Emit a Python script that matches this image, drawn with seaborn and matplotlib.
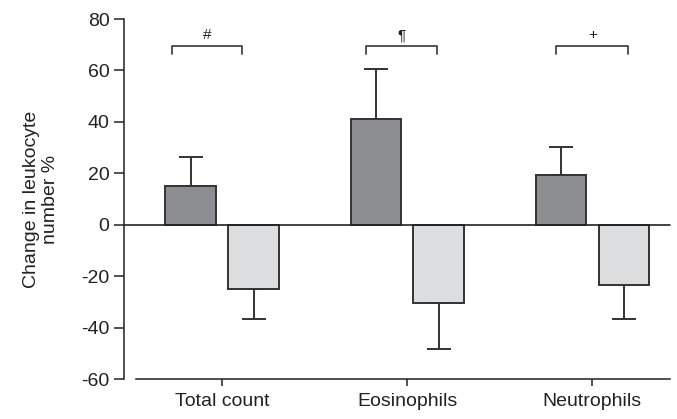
import matplotlib
matplotlib.use("Agg")
import matplotlib.pyplot as plt
import pandas as pd
import seaborn as sns

# Data
categories = ["Total count", "Eosinophils", "Neutrophils"]
groups = ["A", "B"]
values_a = [15, 41.2, 19.3]          # dark bars
values_b = [-25, -30.5, -23.5]       # light bars
err_a = [11.5, 19.2, 10.8]           # one-sided error (up)
err_b = [11.5, 18.0, 13.0]           # one-sided error (down)
symbols = ["#", "\u00b6", "+"]

df = pd.DataFrame({
    "category": categories * 2,
    "group": ["A"] * 3 + ["B"] * 3,
    "value": values_a + values_b,
})

sns.set_style("ticks")
plt.rcParams["font.family"] = ["Liberation Sans", "DejaVu Sans"]
plt.rcParams["axes.unicode_minus"] = False

fig = plt.figure(figsize=(6.77, 4.19), dpi=100)
ax = fig.add_axes([136 / 677, 1 - 379 / 419, (670 - 136) / 677, (379 - 19) / 419])

palette = {"A": "#8d8e92", "B": "#dcdddf"}
sns.barplot(data=df, x="category", y="value", hue="group", order=categories,
            hue_order=groups, palette=palette, width=0.68, gap=0.2,
            edgecolor="#333333", linewidth=1.4, errorbar=None, legend=False,
            saturation=1, ax=ax, zorder=3)

# one-sided error bars
xs = range(len(categories))
ax.errorbar([x - 0.17 for x in xs], values_a, yerr=[[0] * 3, err_a], fmt="none",
            ecolor="#333333", elinewidth=1.4, capsize=8.4, capthick=1.4, zorder=2)
ax.errorbar([x + 0.17 for x in xs], values_b, yerr=[err_b, [0] * 3], fmt="none",
            ecolor="#333333", elinewidth=1.4, capsize=8.4, capthick=1.4, zorder=2)

# zero line
ax.axhline(0, xmin=-12 / 534, xmax=1, color="#222222", lw=1.2, clip_on=False, zorder=4)

# significance brackets (offsets relative to each category)
brackets = [(-0.27, 0.11), (-0.22, 0.16), (-0.195, 0.195)]
for (x0, x1), sym, xc in zip(brackets, symbols, xs):
    x0, x1 = xc + x0, xc + x1
    ax.plot([x0, x0, x1, x1], [66.5, 69.5, 69.5, 66.5], color="#444444", lw=1.3,
            clip_on=False)
    ax.text((x0 + x1) / 2, 71, sym, ha="center", va="bottom", fontsize=11,
            color="#222222")

ax.set_ylim(-60, 80)
ax.set_yticks([-60, -40, -20, 0, 20, 40, 60, 80])
ax.set_xlim(-0.465, 2.42)
ax.set_xlabel("")
ax.set_ylabel("Change in leukocyte\nnumber %", fontsize=14, labelpad=16,
              color="#222222", linespacing=1.15)
ax.tick_params(axis="both", labelsize=14, colors="#222222", length=7, width=1.1)
ax.tick_params(axis="x", length=5, pad=5)

sns.despine(ax=ax)
ax.spines["left"].set_position(("outward", 8.6))
for s in ["left", "bottom"]:
    ax.spines[s].set_linewidth(1.1)
    ax.spines[s].set_color("#222222")

fig.savefig("out.png", dpi=100)
